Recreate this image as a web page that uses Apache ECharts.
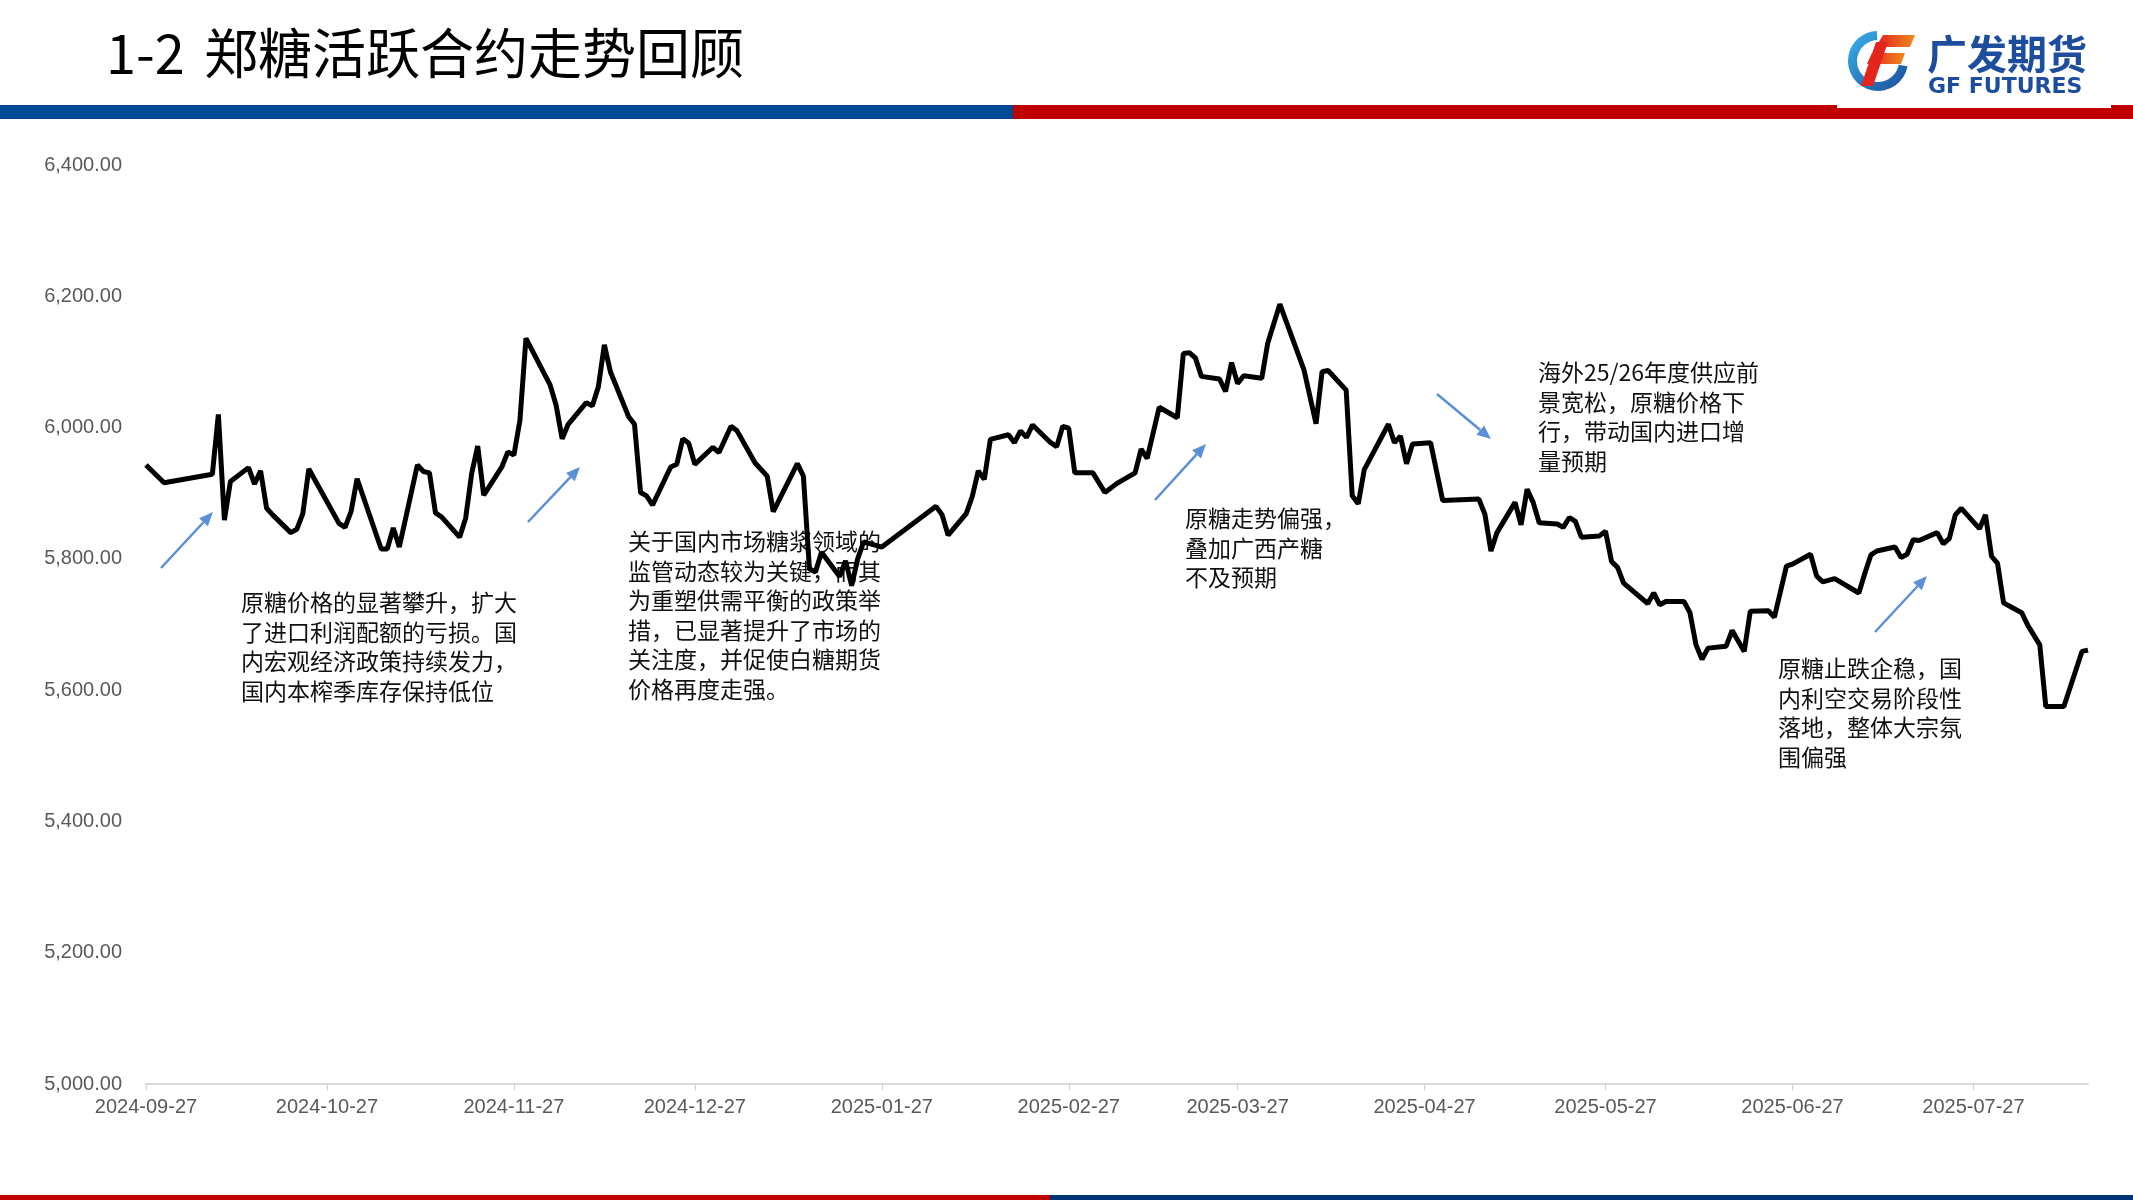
<!DOCTYPE html>
<html>
<head>
<meta charset="utf-8">
<title>1-2 郑糖活跃合约走势回顾</title>
<script src="https://cdn.jsdelivr.net/npm/echarts@6.0.0/dist/echarts.min.js"></script>
<style>
  html, body { margin: 0; padding: 0; background: #ffffff; }
  #chart { width: 2133px; height: 1200px; }
</style>
</head>
<body>
<div id="chart"></div>
<script>
// ---------------- data ----------------
const titleNum = '1-2';
const titleText = '郑糖活跃合约走势回顾';

const dates = [
  '2024-09-27','2024-09-30','2024-10-08','2024-10-09','2024-10-10','2024-10-11','2024-10-14','2024-10-15','2024-10-16','2024-10-17',
  '2024-10-18','2024-10-21','2024-10-22','2024-10-23','2024-10-24','2024-10-29','2024-10-30','2024-10-31','2024-11-01','2024-11-05',
  '2024-11-06','2024-11-07','2024-11-08','2024-11-11','2024-11-12','2024-11-13','2024-11-14','2024-11-15','2024-11-18','2024-11-19',
  '2024-11-20','2024-11-21','2024-11-22','2024-11-25','2024-11-26','2024-11-27','2024-11-28','2024-11-29',
  '2024-12-03','2024-12-04','2024-12-05','2024-12-06','2024-12-09','2024-12-10','2024-12-11','2024-12-12','2024-12-13','2024-12-16',
  '2024-12-17','2024-12-18','2024-12-19','2024-12-20','2024-12-23','2024-12-24','2024-12-25','2024-12-26','2024-12-27','2024-12-30',
  '2024-12-31','2025-01-02','2025-01-03','2025-01-06','2025-01-08','2025-01-09','2025-01-13','2025-01-14','2025-01-15','2025-01-16',
  '2025-01-17','2025-01-20','2025-01-21','2025-01-22','2025-01-23','2025-01-24','2025-01-27','2025-02-05',
  '2025-02-06','2025-02-07','2025-02-10','2025-02-11','2025-02-12','2025-02-13','2025-02-14','2025-02-17','2025-02-18','2025-02-19',
  '2025-02-20','2025-02-21','2025-02-24','2025-02-25','2025-02-26','2025-02-27','2025-02-28','2025-03-03','2025-03-05','2025-03-07',
  '2025-03-10','2025-03-11','2025-03-12','2025-03-14','2025-03-17','2025-03-18','2025-03-19','2025-03-20','2025-03-21','2025-03-24',
  '2025-03-25','2025-03-26','2025-03-27','2025-03-28','2025-03-31','2025-04-01','2025-04-03','2025-04-07','2025-04-09',
  '2025-04-10','2025-04-11','2025-04-14','2025-04-15','2025-04-16','2025-04-17','2025-04-21','2025-04-22','2025-04-23','2025-04-24',
  '2025-04-25','2025-04-28','2025-04-30','2025-05-06','2025-05-07','2025-05-08','2025-05-09','2025-05-12','2025-05-13','2025-05-14',
  '2025-05-15','2025-05-16','2025-05-19','2025-05-20','2025-05-21','2025-05-22','2025-05-23','2025-05-26','2025-05-27','2025-05-28',
  '2025-05-29','2025-05-30','2025-06-03','2025-06-04','2025-06-05','2025-06-06','2025-06-09','2025-06-10','2025-06-11','2025-06-12',
  '2025-06-13','2025-06-16','2025-06-17','2025-06-19','2025-06-20','2025-06-23','2025-06-24','2025-06-26','2025-06-27','2025-06-30',
  '2025-07-01','2025-07-02','2025-07-04','2025-07-08','2025-07-09','2025-07-10','2025-07-11','2025-07-14','2025-07-15','2025-07-16',
  '2025-07-17','2025-07-18','2025-07-21','2025-07-22','2025-07-23','2025-07-24','2025-07-25','2025-07-28','2025-07-29','2025-07-30',
  '2025-07-31','2025-08-01','2025-08-04','2025-08-05','2025-08-07','2025-08-08','2025-08-11','2025-08-14','2025-08-15'
];

const prices = [
  5943,5916,5929,6020,5859,5918,5939,5914,5934,5877,
  5867,5840,5845,5869,5937,5854,5848,5872,5922,5815,
  5815,5847,5818,5943,5933,5931,5870,5864,5833,5862,
  5930,5972,5897,5940,5963,5958,6011,6136,
  6065,6034,5983,6005,6038,6033,6062,6126,6085,6017,
  6005,5901,5896,5882,5940,5944,5983,5976,5944,5970,
  5962,6002,5995,5946,5926,5872,5945,5926,5785,5780,
  5810,5773,5797,5759,5800,5826,5818,5880,
  5867,5836,5869,5895,5934,5921,5982,5989,5977,5995,
  5985,6004,5977,5971,6002,5999,5931,5931,5901,5915,
  5931,5967,5953,6031,6015,6113,6114,6106,6078,6074,
  6055,6099,6067,6079,6075,6129,6188,6088,6006,
  6085,6087,6057,5896,5884,5936,6005,5977,5987,5945,
  5975,5977,5889,5891,5868,5812,5840,5886,5852,5906,
  5886,5855,5853,5848,5863,5857,5833,5835,5842,5796,
  5787,5763,5732,5748,5730,5735,5735,5718,5669,5647,
  5664,5667,5691,5659,5720,5721,5711,5789,5792,5807,
  5774,5765,5770,5748,5778,5806,5812,5818,5802,5807,
  5829,5828,5840,5823,5831,5867,5877,5846,5867,5804,
  5793,5733,5718,5699,5669,5575,5575,5659,5661
];

const xTickLabels = ['2024-09-27','2024-10-27','2024-11-27','2024-12-27','2025-01-27','2025-02-27',
                     '2025-03-27','2025-04-27','2025-05-27','2025-06-27','2025-07-27'];
const xStart = '2024-09-27';
const xEnd = '2025-08-15';
const yMin = 5000, yMax = 6400, yStep = 200;

const notes = [
  '原糖价格的显著攀升，扩大\n了进口利润配额的亏损。国\n内宏观经济政策持续发力，\n国内本榨季库存保持低位',
  '关于国内市场糖浆领域的\n监管动态较为关键，而其\n为重塑供需平衡的政策举\n措，已显著提升了市场的\n关注度，并促使白糖期货\n价格再度走强。',
  '原糖走势偏强，\n叠加广西产糖\n不及预期',
  '海外25/26年度供应前\n景宽松，原糖价格下\n行，带动国内进口增\n量预期',
  '原糖止跌企稳，国\n内利空交易阶段性\n落地，整体大宗氛\n围偏强'
];

// ---------------- helpers ----------------
function toTs(s) {
  const p = s.split('-').map(Number);
  return new Date(p[0], p[1] - 1, p[2]).getTime();
}
function fmtDate(v) {
  const d = new Date(v);
  const mm = String(d.getMonth() + 1).padStart(2, '0');
  const dd = String(d.getDate()).padStart(2, '0');
  return d.getFullYear() + '-' + mm + '-' + dd;
}
const tickTs = xTickLabels.map(toTs);
const seriesData = dates.map((d, i) => [toTs(d), prices[i]]);

const ARROW = '#5b8fd8';
function arrow(x1, y1, x2, y2) {
  const a = Math.atan2(y2 - y1, x2 - x1);
  const L = 14, W = 6;
  const bx = x2 - L * Math.cos(a), by = y2 - L * Math.sin(a);
  const px = -Math.sin(a) * W, py = Math.cos(a) * W;
  return [
    { type: 'line', silent: true, shape: { x1: x1, y1: y1, x2: bx, y2: by },
      style: { stroke: ARROW, lineWidth: 2.5 } },
    { type: 'polygon', silent: true, shape: { points: [[x2, y2], [bx + px, by + py], [bx - px, by - py]] },
      style: { fill: ARROW } }
  ];
}
function note(text, x, y) {
  return { type: 'text', silent: true, x: x, y: y, z: 0,
    style: { text: text, fill: '#111111', fontSize: 23, lineHeight: 29.5,
      fontFamily: "'Noto Sans CJK SC', sans-serif", textVerticalAlign: 'top', textAlign: 'left' } };
}

const CJK = "'Noto Sans CJK SC', sans-serif";
const graphics = [
  // header bars
  { type: 'rect', shape: { x: 0, y: 105, width: 1013, height: 14 }, style: { fill: '#004b97' } },
  { type: 'rect', shape: { x: 1013, y: 105, width: 1120, height: 14 }, style: { fill: '#c00000' } },
  { type: 'rect', shape: { x: 1837, y: 0, width: 274, height: 108 }, style: { fill: '#ffffff' } },
  // logo icon
  { type: 'sector', shape: { cx: 1878, cy: 61, r: 30, r0: 21, startAngle: 10 * Math.PI / 180, endAngle: 268 * Math.PI / 180, clockwise: true },
    style: { fill: new echarts.graphic.LinearGradient(0, 0, 1, 1, [{ offset: 0, color: '#3ab4ea' }, { offset: 1, color: '#1a4b9b' }]) } },
  { type: 'polygon', shape: { points: [[1883, 35], [1915, 35], [1910, 47], [1876, 47]] },
    style: { fill: new echarts.graphic.LinearGradient(0, 0, 1, 0, [{ offset: 0, color: '#e3201e' }, { offset: 1, color: '#f08a1e' }]) } },
  { type: 'polygon', shape: { points: [[1872, 53], [1905, 53], [1901, 64], [1867, 64]] },
    style: { fill: new echarts.graphic.LinearGradient(0, 0, 1, 0, [{ offset: 0, color: '#e3201e' }, { offset: 1, color: '#f08a1e' }]) } },
  { type: 'polygon', shape: { points: [[1876, 42], [1888, 42], [1873, 86], [1861, 86]] },
    style: { fill: '#e3251e' } },
  { type: 'text', x: 1927, y: 54, style: { text: '广发期货', fill: '#1d4e9e', fontSize: 40, fontWeight: 'bold',
      fontFamily: CJK, textVerticalAlign: 'middle' } },
  { type: 'text', x: 1928, y: 87, style: { text: 'GF FUTURES', fill: '#1d4e9e', fontSize: 22, fontWeight: 'bold',
      fontFamily: "'DejaVu Sans', sans-serif", textVerticalAlign: 'middle' } },
  // title
  { type: 'text', x: 106, y: 53, style: { text: titleNum, fill: '#000000', fontSize: 54, fontFamily: CJK, textVerticalAlign: 'middle' } },
  { type: 'text', x: 204, y: 53, style: { text: titleText, fill: '#000000', fontSize: 54, fontFamily: CJK, textVerticalAlign: 'middle' } },
  // footer bars
  { type: 'rect', shape: { x: 0, y: 1195, width: 1050, height: 5 }, style: { fill: '#c00000' } },
  { type: 'rect', shape: { x: 1050, y: 1195, width: 1083, height: 5 }, style: { fill: '#003478' } },
  // annotations
  note(notes[0], 241, 588),
  note(notes[1], 628, 527),
  note(notes[2], 1185, 504),
  note(notes[3], 1538, 358),
  note(notes[4], 1778, 654)
].concat(
  arrow(161, 568, 213, 512),
  arrow(528, 522, 580, 467),
  arrow(1155, 500, 1206, 444),
  arrow(1437, 394, 1491, 439),
  arrow(1875, 632, 1927, 576)
);

const chart = echarts.init(document.getElementById('chart'), null, { renderer: 'canvas' });
chart.setOption({
  animation: false,
  backgroundColor: '#ffffff',
  grid: { left: 146, right: 45, top: 165, bottom: 116, containLabel: false },
  xAxis: {
    type: 'value',
    min: toTs(xStart),
    max: toTs(xEnd),
    axisLine: { show: true, lineStyle: { color: '#d9d9d9', width: 2 } },
    axisTick: { show: true, customValues: tickTs, length: 6, lineStyle: { color: '#d0d0d0', width: 1 } },
    axisLabel: {
      customValues: tickTs,
      formatter: function (v) { return fmtDate(v); },
      color: '#595959', fontSize: 20, fontFamily: "'Liberation Sans', Arial, sans-serif", margin: 13
    },
    splitLine: { show: false }
  },
  yAxis: {
    type: 'value',
    min: yMin, max: yMax, interval: yStep,
    axisLine: { show: false },
    axisTick: { show: false },
    splitLine: { show: false },
    axisLabel: {
      formatter: function (v) { return v.toLocaleString('en-US', { minimumFractionDigits: 2, maximumFractionDigits: 2 }); },
      color: '#595959', fontSize: 20, fontFamily: "'Liberation Sans', Arial, sans-serif", margin: 24
    }
  },
  series: [{
    type: 'line',
    name: '郑糖活跃合约',
    data: seriesData,
    showSymbol: false,
    symbol: 'none',
    z: 5,
    lineStyle: { color: '#000000', width: 5 },
    sampling: null
  }],
  graphic: { elements: graphics }
});
</script>
</body>
</html>
